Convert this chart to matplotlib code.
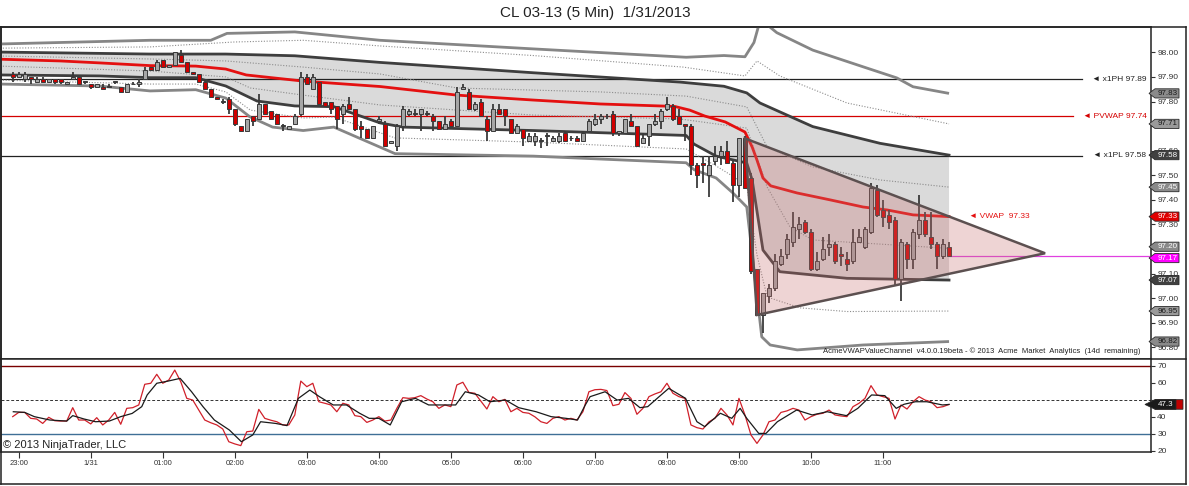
import numpy as np
import matplotlib
matplotlib.use('Agg')
import matplotlib.pyplot as plt
import matplotlib.transforms as mtransforms
from matplotlib.lines import Line2D
from matplotlib.patches import Polygon

plt.rcParams['font.family'] = ['Liberation Sans', 'DejaVu Sans']

# 5 min bars, bar 0 = 22:55 (1/30), last bar = 11:55 (1/31)
opens = [97.91, 97.90, 97.89, 97.90, 97.88, 97.89, 97.88, 97.89, 97.89, 97.87,
         97.89, 97.90, 97.88, 97.87, 97.86, 97.86, 97.86, 97.88, 97.86, 97.84,
         97.87, 97.87, 97.89, 97.94, 97.93, 97.97, 97.94, 97.95, 97.99, 97.96,
         97.92, 97.91, 97.88, 97.85, 97.82, 97.80, 97.81, 97.77, 97.70, 97.68,
         97.74, 97.73, 97.79, 97.76, 97.75, 97.70, 97.69, 97.71, 97.75, 97.90,
         97.85, 97.88, 97.80, 97.80, 97.78, 97.75, 97.79, 97.77, 97.70, 97.69,
         97.65, 97.72, 97.71, 97.63, 97.62, 97.70, 97.75, 97.75, 97.75, 97.75,
         97.74, 97.72, 97.69, 97.72, 97.70, 97.85, 97.84, 97.77, 97.80, 97.73,
         97.68, 97.77, 97.77, 97.73, 97.67, 97.69, 97.64, 97.64, 97.64, 97.66,
         97.64, 97.64, 97.67, 97.65, 97.65, 97.64, 97.68, 97.71, 97.73, 97.74,
         97.75, 97.67, 97.67, 97.72, 97.70, 97.63, 97.66, 97.71, 97.72, 97.77,
         97.78, 97.74, 97.71, 97.70, 97.54, 97.55, 97.50, 97.56, 97.58, 97.60,
         97.55, 97.46, 97.65, 97.49, 97.12, 96.93, 97.01, 97.04, 97.14, 97.18,
         97.23, 97.28, 97.31, 97.27, 97.12, 97.16, 97.21, 97.22, 97.18, 97.16,
         97.15, 97.23, 97.21, 97.27, 97.44, 97.36, 97.34, 97.32, 97.08, 97.22,
         97.16, 97.26, 97.32, 97.25, 97.22, 97.17, 97.21]
highs = [97.92, 97.92, 97.92, 97.90, 97.90, 97.90, 97.89, 97.89, 97.89, 97.88,
         97.92, 97.90, 97.88, 97.87, 97.87, 97.87, 97.87, 97.88, 97.86, 97.87,
         97.88, 97.89, 97.94, 97.94, 97.97, 97.97, 97.95, 98.00, 98.01, 97.96,
         97.92, 97.91, 97.89, 97.85, 97.82, 97.81, 97.82, 97.77, 97.70, 97.73,
         97.74, 97.83, 97.79, 97.76, 97.75, 97.71, 97.70, 97.75, 97.92, 97.91,
         97.91, 97.88, 97.80, 97.80, 97.78, 97.79, 97.82, 97.77, 97.72, 97.69,
         97.70, 97.74, 97.72, 97.64, 97.71, 97.78, 97.77, 97.77, 97.77, 97.76,
         97.75, 97.72, 97.74, 97.73, 97.86, 97.87, 97.85, 97.80, 97.81, 97.74,
         97.79, 97.79, 97.77, 97.73, 97.71, 97.69, 97.67, 97.67, 97.65, 97.67,
         97.66, 97.67, 97.68, 97.66, 97.66, 97.68, 97.73, 97.75, 97.75, 97.75,
         97.76, 97.68, 97.73, 97.75, 97.70, 97.67, 97.71, 97.75, 97.77, 97.82,
         97.79, 97.77, 97.71, 97.71, 97.55, 97.58, 97.58, 97.62, 97.62, 97.64,
         97.56, 97.65, 97.66, 97.51, 97.12, 97.02, 97.06, 97.18, 97.20, 97.26,
         97.35, 97.33, 97.32, 97.28, 97.19, 97.25, 97.26, 97.23, 97.21, 97.19,
         97.28, 97.28, 97.29, 97.47, 97.46, 97.40, 97.36, 97.33, 97.24, 97.23,
         97.28, 97.42, 97.35, 97.35, 97.23, 97.24, 97.23]
lows = [97.88, 97.90, 97.88, 97.87, 97.88, 97.88, 97.88, 97.87, 97.87, 97.87,
        97.89, 97.87, 97.87, 97.85, 97.86, 97.85, 97.86, 97.87, 97.84, 97.84,
        97.87, 97.86, 97.89, 97.93, 97.93, 97.94, 97.94, 97.95, 97.96, 97.92,
        97.91, 97.88, 97.85, 97.82, 97.81, 97.79, 97.75, 97.70, 97.68, 97.68,
        97.70, 97.73, 97.75, 97.73, 97.71, 97.68, 97.69, 97.71, 97.74, 97.87,
        97.85, 97.79, 97.78, 97.75, 97.69, 97.71, 97.77, 97.68, 97.65, 97.65,
        97.65, 97.71, 97.62, 97.63, 97.60, 97.68, 97.74, 97.74, 97.68, 97.74,
        97.68, 97.69, 97.69, 97.70, 97.70, 97.85, 97.77, 97.76, 97.74, 97.64,
        97.68, 97.75, 97.70, 97.67, 97.67, 97.62, 97.64, 97.62, 97.61, 97.62,
        97.64, 97.63, 97.64, 97.64, 97.64, 97.64, 97.68, 97.70, 97.71, 97.73,
        97.66, 97.66, 97.67, 97.70, 97.62, 97.63, 97.62, 97.70, 97.69, 97.76,
        97.72, 97.71, 97.64, 97.50, 97.45, 97.47, 97.41, 97.54, 97.54, 97.55,
        97.39, 97.41, 97.45, 97.10, 96.93, 96.86, 96.98, 97.03, 97.13, 97.16,
        97.21, 97.24, 97.26, 97.11, 97.11, 97.15, 97.17, 97.14, 97.13, 97.11,
        97.14, 97.23, 97.20, 97.26, 97.33, 97.29, 97.28, 97.05, 96.99, 97.12,
        97.12, 97.24, 97.25, 97.20, 97.12, 97.16, 97.17]
closes = [97.90, 97.91, 97.91, 97.89, 97.89, 97.88, 97.89, 97.88, 97.88, 97.88,
          97.90, 97.87, 97.88, 97.86, 97.87, 97.85, 97.86, 97.88, 97.84, 97.87,
          97.87, 97.88, 97.93, 97.93, 97.96, 97.94, 97.95, 98.00, 97.96, 97.92,
          97.91, 97.88, 97.85, 97.82, 97.81, 97.80, 97.77, 97.71, 97.68, 97.73,
          97.72, 97.79, 97.75, 97.73, 97.71, 97.70, 97.70, 97.74, 97.90, 97.87,
          97.90, 97.79, 97.78, 97.77, 97.73, 97.78, 97.77, 97.69, 97.69, 97.65,
          97.70, 97.73, 97.62, 97.64, 97.70, 97.77, 97.76, 97.75, 97.77, 97.75,
          97.72, 97.69, 97.71, 97.70, 97.84, 97.86, 97.77, 97.79, 97.74, 97.68,
          97.77, 97.75, 97.74, 97.67, 97.70, 97.65, 97.66, 97.66, 97.64, 97.66,
          97.65, 97.66, 97.64, 97.65, 97.64, 97.67, 97.72, 97.73, 97.74, 97.74,
          97.67, 97.68, 97.73, 97.70, 97.62, 97.65, 97.71, 97.72, 97.76, 97.79,
          97.73, 97.71, 97.70, 97.54, 97.50, 97.54, 97.54, 97.58, 97.60, 97.55,
          97.46, 97.65, 97.45, 97.11, 96.93, 97.02, 97.04, 97.15, 97.17, 97.24,
          97.29, 97.30, 97.27, 97.12, 97.15, 97.20, 97.22, 97.15, 97.17, 97.14,
          97.23, 97.25, 97.28, 97.45, 97.34, 97.33, 97.31, 97.08, 97.23, 97.16,
          97.27, 97.32, 97.26, 97.22, 97.17, 97.22, 97.17]

# VWAP and value channel bands, read at (bar, price)
vwap_bar = [-2.1, 7.9, 14.5, 22.9, 30.5, 35.5, 38.9, 48.4, 61.2, 74.0, 86.7, 97.9, 110.3,
            112.8, 115.3, 118.7, 122.0, 123.2, 124.0, 125.0, 126.3, 130.7, 136.2, 141.7,
            145.7, 150.0, 156.0]
vwap_val = [97.972, 97.965, 97.957, 97.946, 97.944, 97.932, 97.908, 97.883, 97.861, 97.826,
            97.806, 97.790, 97.780, 97.765, 97.741, 97.717, 97.676, 97.615, 97.562, 97.489,
            97.457, 97.428, 97.400, 97.371, 97.359, 97.339, 97.332]

up1_bar = [-2.1, 22.9, 35.5, 47.0, 61.2, 86.7, 111.2, 118.5, 122.3, 124.5, 133.3, 144.5, 156.0]
up1_val = [98.001, 97.993, 97.993, 97.986, 97.959, 97.917, 97.879, 97.862, 97.835, 97.794,
           97.698, 97.630, 97.582]
dn1_bar = [-2.1, 14.5, 22.9, 30.5, 35.5, 40.7, 47.0, 53.5, 61.2, 65.0, 86.7, 112.2, 113.5,
           117.2, 122.3, 123.2, 125.0, 127.8, 139.0, 156.0]
dn1_val = [97.908, 97.904, 97.897, 97.897, 97.863, 97.802, 97.782, 97.779, 97.713, 97.696,
           97.682, 97.662, 97.627, 97.578, 97.550, 97.481, 97.196, 97.108, 97.081, 97.074]

up2_bar = [-2.1, 22.9, 33.0, 35.7, 47.0, 61.2, 86.7, 112.2, 118.5, 122.0, 123.5, 124.3,
           125.8, 127.3, 133.3, 141.7, 147.3, 150.0, 156.0]
up2_val = [98.034, 98.049, 98.049, 98.077, 98.083, 98.049, 98.014, 97.980, 97.987, 97.982,
           98.040, 98.110, 98.110, 98.080, 98.009, 97.941, 97.896, 97.860, 97.833]
dn2_bar = [-2.1, 14.5, 22.9, 30.5, 35.5, 39.5, 43.3, 48.4, 53.5, 63.7, 86.7, 112.2, 113.5,
           117.2, 120.0, 122.3, 124.8, 126.2, 130.7, 141.7, 156.0]
dn2_val = [97.871, 97.863, 97.843, 97.848, 97.814, 97.738, 97.696, 97.682, 97.696, 97.588,
           97.578, 97.551, 97.523, 97.489, 97.428, 97.371, 96.843, 96.810, 96.790, 96.810,
           96.824]

up15_bar = [-2.1, 22.9, 36.9, 48.4, 61.2, 86.7, 111.7, 122.0, 124.0, 127.8, 139.0, 156.0]
up15_val = [98.017, 98.022, 98.042, 98.049, 98.026, 97.987, 97.940, 97.904, 97.965, 97.904,
            97.794, 97.709]
dn15_bar = [-2.1, 22.9, 30.5, 35.5, 39.6, 48.4, 53.5, 63.7, 86.7, 112.2, 117.2, 122.3,
            124.0, 125.7, 131.2, 139.0, 156.0]
dn15_val = [97.887, 97.871, 97.871, 97.839, 97.765, 97.733, 97.737, 97.652, 97.635, 97.607,
            97.538, 97.461, 97.176, 97.005, 96.961, 96.946, 96.948]
up05_bar = [-2.1, 22.9, 35.5, 48.4, 61.2, 74.0, 97.9, 112.2, 122.3, 125.7, 133.3, 144.5, 156.0]
up05_val = [97.985, 97.973, 97.965, 97.940, 97.912, 97.855, 97.839, 97.822, 97.778, 97.615,
            97.534, 97.481, 97.452]
dn05_bar = [-2.1, 22.9, 35.5, 39.6, 48.4, 61.2, 86.7, 111.2, 122.3, 125.7, 129.5, 133.3, 156.0]
dn05_val = [97.944, 97.924, 97.900, 97.855, 97.826, 97.786, 97.745, 97.729, 97.692, 97.452,
            97.290, 97.237, 97.203]

# prior session levels
lvl_names = ['x1PH', 'PVWAP', 'x1PL']
lvl_vals = [97.89, 97.74, 97.58]
lvl_cols = ['#222222', '#d40000', '#222222']

# triangle drawn on the chart (bar, price)
tri_bar = [122.0, 124.0, 172.0]
tri_val = [97.650, 96.932, 97.183]

# oscillator (lower panel)
osc_red = [40.1, 42.6, 42.6, 39.1, 38.7, 36.1, 39.7, 37.7, 37.5, 37.5,
           45.4, 38.1, 38.1, 35.8, 39.5, 35.2, 38.1, 42.6, 35.6, 45.0,
           45.4, 47.0, 59.2, 59.8, 65.1, 59.8, 61.7, 67.6, 60.7, 50.9,
           49.9, 44.0, 38.1, 36.5, 35.2, 32.8, 25.3, 24.0, 23.0, 31.2,
           31.6, 44.4, 39.1, 38.0, 37.1, 35.2, 35.2, 41.1, 61.1, 57.8,
           59.8, 48.9, 48.0, 47.0, 43.0, 48.0, 47.0, 40.7, 40.1, 36.7,
           38.1, 40.1, 37.5, 38.1, 45.0, 51.3, 50.9, 51.3, 52.5, 50.5,
           48.9, 45.0, 47.0, 46.0, 58.8, 60.4, 54.4, 53.9, 49.3, 44.6,
           51.9, 48.9, 50.3, 43.0, 45.0, 42.6, 42.1, 40.0, 37.1, 36.1,
           39.1, 40.1, 38.1, 39.1, 38.1, 43.0, 54.8, 56.0, 56.2, 55.5,
           46.6, 47.4, 54.3, 50.9, 41.5, 45.0, 51.9, 53.5, 54.8, 59.8,
           53.9, 51.9, 50.9, 35.2, 33.6, 32.8, 37.0, 39.1, 45.0, 41.1,
           35.2, 50.9, 41.1, 29.3, 24.3, 29.3, 37.1, 38.1, 42.6, 43.5,
           45.0, 44.0, 38.1, 40.1, 41.5, 42.1, 44.0, 41.1, 40.5, 40.1,
           46.0, 48.0, 50.9, 58.4, 52.9, 51.9, 50.9, 38.7, 47.0, 44.6,
           48.9, 51.9, 49.9, 48.9, 45.4, 46.0, 47.3]
osc_blk_bar = [0.1, 2.0, 3.6, 6.2, 9.0, 10.0, 11.9, 13.8, 16.1, 18.0, 19.9, 21.5, 22.4, 24.0,
               25.9, 27.9, 29.8, 31.7, 33.6, 36.1, 38.1, 40.0, 41.3, 43.8, 45.7, 47.6, 49.5,
               51.1, 53.4, 55.6, 57.8, 59.4, 61.0, 62.9, 64.8, 67.1, 69.3, 71.5, 73.8, 75.4,
               77.6, 79.5, 82.1, 84.3, 87.2, 89.7, 92.2, 94.1, 95.4, 96.2, 98.7, 100.7, 102.6,
               104.5, 105.8, 107.7, 109.3, 112.1, 114.0, 115.3, 117.9, 119.8, 121.2, 122.3,
               124.3, 125.5, 127.4, 130.6, 133.2, 135.7, 138.9, 140.8, 143.1, 145.3, 147.2,
               148.5, 150.4, 152.3, 154.9, 156.0]
osc_blk_val = [43.0, 42.6, 40.1, 38.1, 37.5, 40.7, 38.7, 37.1, 37.5, 40.1, 42.0, 46.0, 52.9,
               59.8, 61.1, 62.7, 54.8, 46.0, 38.1, 32.2, 25.3, 29.3, 37.1, 36.1, 34.8, 50.9,
               55.8, 51.9, 47.0, 47.0, 42.1, 39.1, 39.1, 35.2, 48.9, 50.9, 47.0, 47.0, 47.0,
               54.8, 52.9, 48.9, 49.9, 45.4, 43.0, 40.1, 39.1, 38.1, 47.0, 51.9, 54.8, 49.9,
               50.9, 45.4, 46.0, 51.9, 56.8, 50.9, 37.1, 34.2, 42.1, 39.1, 45.0, 39.1, 30.2,
               30.2, 37.1, 44.0, 41.1, 43.0, 40.7, 45.0, 52.9, 52.5, 45.0, 47.4, 48.9, 48.9,
               47.0, 47.3]

time_labels = ['23:00', '1/31', '01:00', '02:00', '03:00', '04:00', '05:00', '06:00',
               '07:00', '08:00', '09:00', '10:00', '11:00']
time_bars = [1 + 12 * k for k in range(len(time_labels))]

# ---------------------------------------------------------------- layout
W, H = 1189, 486
fig = plt.figure(figsize=(W / 100, H / 100), dpi=100)
fig.patch.set_facecolor('white')


def px_box(x0, y0, x1, y1):
    return [x0 / W, 1 - y1 / H, (x1 - x0) / W, (y1 - y0) / H]


ax1 = fig.add_axes(px_box(1, 27, 1151, 359))
ax2 = fig.add_axes(px_box(1, 359, 1151, 452))
xlim = (-1.95, 189.65)
for ax in (ax1, ax2):
    ax.set_xlim(*xlim)
    for s in ax.spines.values():
        s.set_color('#222222')
        s.set_linewidth(1.1)
ax1.set_ylim(96.753, 98.103)
ax2.set_ylim(19.23, 74.13)
ax2.spines['top'].set_visible(False)

# ---------------------------------------------------------------- main panel
band_dark = '#3e3e3e'
band_out = '#868686'
band_dot = '#8c8c8c'

ax1.fill(np.concatenate([up1_bar, dn1_bar[::-1]]), np.concatenate([up1_val, dn1_val[::-1]]),
         color='#dadada', lw=0, zorder=1)
ax1.plot(up2_bar, up2_val, color=band_out, lw=2.0, zorder=3, solid_capstyle='butt')
ax1.plot(dn2_bar, dn2_val, color=band_out, lw=2.0, zorder=3, solid_capstyle='butt')
ax1.plot(up15_bar, up15_val, color=band_dot, lw=0.8, ls=(0, (1, 1.5)), zorder=3)
ax1.plot(dn15_bar, dn15_val, color=band_dot, lw=0.8, ls=(0, (1, 1.5)), zorder=3)
ax1.plot(up05_bar, up05_val, color=band_dot, lw=0.8, ls=(0, (1, 1.5)), zorder=3)
ax1.plot(dn05_bar, dn05_val, color=band_dot, lw=0.8, ls=(0, (1, 1.5)), zorder=3)
ax1.plot(up1_bar, up1_val, color=band_dark, lw=2.0, zorder=3)
ax1.plot(dn1_bar, dn1_val, color=band_dark, lw=2.0, zorder=3)
ax1.plot(vwap_bar, vwap_val, color='#e41010', lw=2.0, zorder=3.5)

# prior-session lines with labels
line_end = {'x1PH': 178.2, 'PVWAP': 176.6, 'x1PL': 178.2}
for name, val, col in zip(lvl_names, lvl_vals, lvl_cols):
    ax1.plot([xlim[0], line_end[name]], [val, val], color=col, lw=0.9, zorder=2.5)
    ax1.text(188.9, val, '\u25c4 %s %.2f' % (name, val), color=col, fontsize=6,
             ha='right', va='center', zorder=6)

# candles
o, h, l, c = map(np.array, (opens, highs, lows, closes))
bars = np.arange(len(o))
body_lo = np.minimum(o, c)
body_h = np.maximum(np.abs(c - o), 0.003)
body_col = np.where(c > o, '#a6a6a6', np.where(c < o, '#d10000', '#3a3a3a'))
ax1.vlines(bars, l, h, color='#3a3a3a', lw=1.3, zorder=4)
ax1.bar(bars, body_h, bottom=body_lo, width=0.68, color=body_col, edgecolor='#3a3a3a',
        linewidth=0.7, zorder=5)

# last price line
ax1.plot([bars[-1], xlim[1]], [c[-1], c[-1]], color='#e040e0', lw=0.9, zorder=3)

# triangle
tri = Polygon(list(zip(tri_bar, tri_val)), closed=True, facecolor=(0.78, 0.45, 0.45, 0.30),
              edgecolor='#5c5050', lw=1.8, zorder=6)
ax1.add_patch(tri)

ax1.text(159.4, vwap_val[-1], '\u25c4 VWAP  %.2f' % vwap_val[-1], color='#e41010',
         fontsize=6, ha='left', va='center', zorder=7)

# right price scale; labels fully covered by value badges are left blank
price_ticks = np.round(np.arange(96.8, 98.01, 0.1), 2)
covered = [97.7, 97.2]
ax1.yaxis.tick_right()
ax1.set_yticks(price_ticks)
ax1.set_yticklabels(['' if v in covered else '%.2f' % v for v in price_ticks])
ax1.tick_params(axis='y', length=3, width=0.8, pad=1.5, labelsize=6, colors='#333333')
ax1.set_xticks([])

# right-axis value badges
tr1 = mtransforms.blended_transform_factory(ax1.transAxes, ax1.transData)
tr2 = mtransforms.blended_transform_factory(ax2.transAxes, ax2.transData)


def badge(ax, tr, value, text, face, tcol, half, x_tip=1149, x_end=1179, shift=0.0):
    xt = (x_tip - 1) / 1150.0
    x0 = (1155 - 1) / 1150.0
    x1 = (x_end - 1) / 1150.0
    yc = value + shift
    pts = [(xt, yc), (x0, yc + half), (x1, yc + half), (x1, yc - half), (x0, yc - half)]
    ax.add_patch(Polygon(pts, closed=True, transform=tr, facecolor=face,
                         edgecolor='#2a2a2a', lw=0.6, clip_on=False, zorder=10))
    ax.text((x0 + x1) / 2 + 0.0005, yc, text, transform=tr, ha='center', va='center',
            fontsize=5.8, color=tcol, clip_on=False, zorder=11)


hb = 4.6 / 246.0
gap = 1.6 / 246.0
badge(ax1, tr1, up2_val[-1], '%.2f' % up2_val[-1], '#8a8a8a', '#1a1a1a', hb)
badge(ax1, tr1, up15_val[-1], '%.2f' % up15_val[-1], '#9a9a9a', '#1a1a1a', hb)
badge(ax1, tr1, up1_val[-1], '%.2f' % up1_val[-1], '#404040', 'white', hb)
badge(ax1, tr1, up05_val[-1], '%.2f' % up05_val[-1], '#8a8a8a', 'white', hb)
badge(ax1, tr1, vwap_val[-1], '%.2f' % vwap_val[-1], '#e00000', 'white', hb)
badge(ax1, tr1, dn05_val[-1], '%.2f' % dn05_val[-1], '#8a8a8a', 'white', hb, shift=gap)
badge(ax1, tr1, c[-1], '%.2f' % c[-1], '#ff00ff', 'white', hb, shift=-gap)
badge(ax1, tr1, dn1_val[-1], '%.2f' % dn1_val[-1], '#404040', 'white', hb)
badge(ax1, tr1, dn15_val[-1], '%.2f' % dn15_val[-1], '#9a9a9a', '#1a1a1a', hb)
badge(ax1, tr1, dn2_val[-1], '%.2f' % dn2_val[-1], '#8a8a8a', '#1a1a1a', hb)

# ---------------------------------------------------------------- lower panel
ax2.axhline(70, color='#7a0000', lw=1.0, zorder=1)
ax2.axhline(50, color='#333333', lw=0.7, ls=(0, (3, 2)), zorder=1)
ax2.axhline(30, color='#3f6f96', lw=1.0, zorder=1)
ax2.plot(bars, osc_red, color='#d0202a', lw=0.9, zorder=3)
ax2.plot(osc_blk_bar, osc_blk_val, color='#1a1a1a', lw=0.9, zorder=4)

ax2.yaxis.tick_right()
osc_ticks = [20, 30, 40, 50, 60, 70]
ax2.set_yticks(osc_ticks)
ax2.set_yticklabels(['' if v == 50 else str(v) for v in osc_ticks])
ax2.tick_params(axis='y', length=3, width=0.8, pad=1.5, labelsize=6, colors='#333333')
ax2.set_xticks(time_bars)
ax2.set_xticklabels(time_labels)
ax2.tick_params(axis='x', length=4, width=0.8, pad=2, labelsize=5.5, colors='#333333')

hb2 = 4.8 / 1.694
badge(ax2, tr2, osc_red[-1], '', '#c00000', 'white', hb2, x_tip=1156, x_end=1183)
badge(ax2, tr2, osc_blk_val[-1], '%.1f' % osc_blk_val[-1], '#1a1a1a', 'white', hb2,
      x_tip=1145, x_end=1176)

# ---------------------------------------------------------------- frame and texts
for (x0, y0, x1, y1) in [(0, 27, 1186, 27), (0, 359, 1186, 359), (0, 484, 1186, 484),
                         (0.5, 27, 0.5, 484), (1186, 27, 1186, 484)]:
    fig.add_artist(Line2D([x0 / W, x1 / W], [1 - y0 / H, 1 - y1 / H], color='#222222',
                          lw=1.1, transform=fig.transFigure))

fig.text(595 / W, 1 - 13 / H, 'CL 03-13 (5 Min)  1/31/2013', ha='center', va='center',
         fontsize=11, color='#222222')
fig.text(3 / W, 1 - 445 / H, '\u00a9 2013 NinjaTrader, LLC', ha='left', va='center',
         fontsize=8, color='#222222')
fig.text(1140 / W, 1 - 351 / H,
         'AcmeVWAPValueChannel  v4.0.0.19beta - \u00a9 2013  Acme  Market  Analytics  (14d  remaining)',
         ha='right', va='center', fontsize=5.5, color='#222222')

fig.savefig('out.png', dpi=100)
